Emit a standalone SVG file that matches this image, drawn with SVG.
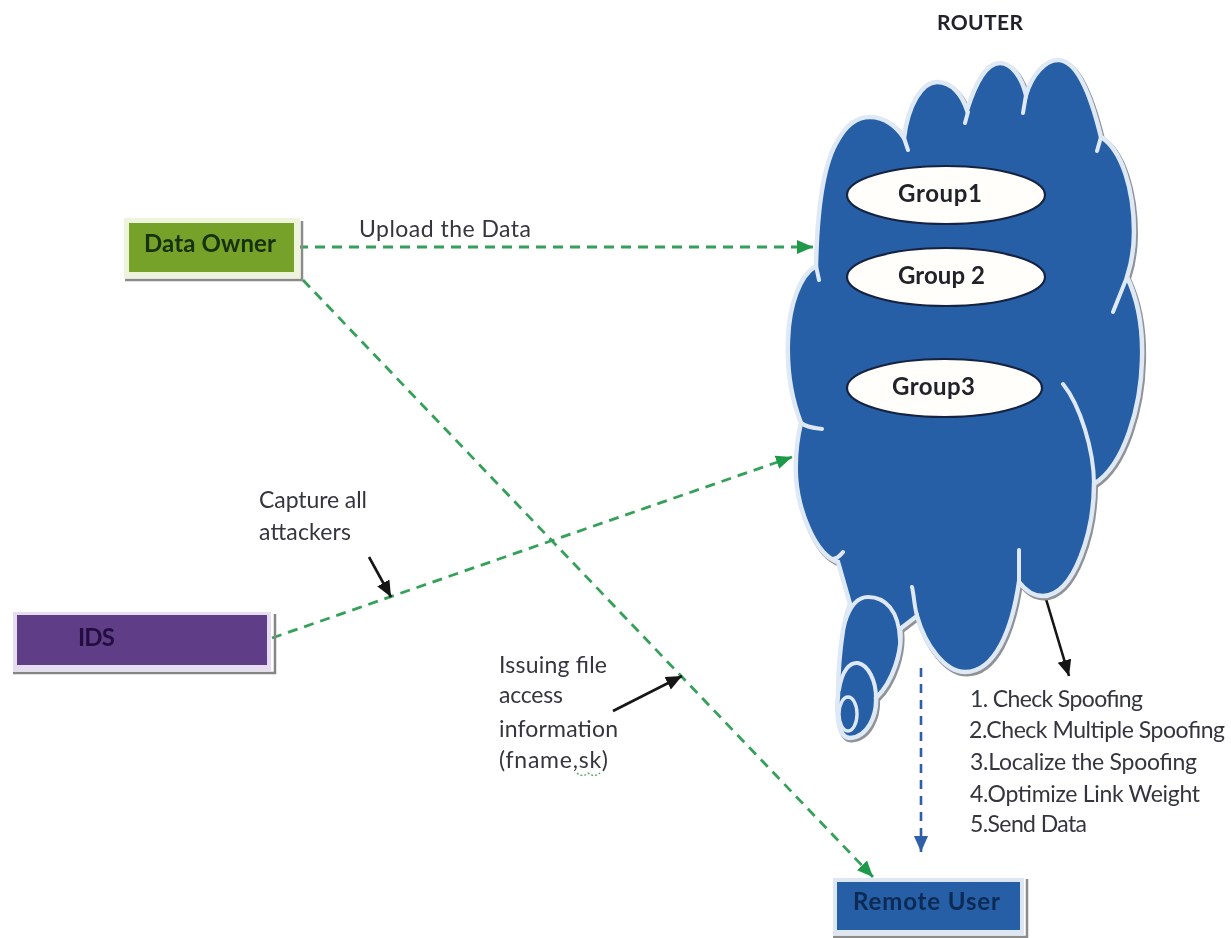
<svg xmlns="http://www.w3.org/2000/svg" xmlns:xlink="http://www.w3.org/1999/xlink" width="1231" height="938" viewBox="0 0 1231 938">
<style>
text{font-family:Lato,"Open Sans","Liberation Sans",sans-serif;fill:#34363e;font-size:23px}
.b{font-weight:700;font-size:24px;fill:#22242c}
.dash{fill:none;stroke:#35a058;stroke-width:2.8;stroke-dasharray:10 7}
.blk{fill:none;stroke:#141414;stroke-width:2.6}
.in{fill:none;stroke:#dfe9f5;stroke-width:4;stroke-linecap:round}
.el{fill:#fffefb;stroke:#14233f;stroke-width:2.2}
</style>
<defs>
<marker id="g" markerUnits="userSpaceOnUse" markerWidth="18" markerHeight="16" refX="16" refY="8" orient="auto"><path d="M0 1L16 8L0 15Z" fill="#1d9a48"/></marker>
<marker id="u" markerUnits="userSpaceOnUse" markerWidth="18" markerHeight="16" refX="16" refY="8" orient="auto"><path d="M0 1L16 8L0 15Z" fill="#2f5fa8"/></marker>
<marker id="k" markerUnits="userSpaceOnUse" markerWidth="18" markerHeight="16" refX="16" refY="8" orient="auto"><path d="M0 1L16 8L0 15Z" fill="#141414"/></marker>
<path id="cloud" d="M816 266C817 220 822 165 838 140C848 122 860 117 870 117C885 117 897 127 904 138C908 105 922 82 937 82C952 82 962 95 967 110C975 85 985 63 1000 63C1012 63 1022 78 1026 95C1032 75 1045 60 1058 60C1078 60 1092 100 1101 137C1122 150 1134 190 1134 232C1134 250 1131 265 1127 277C1138 300 1143 330 1142 360C1141 405 1125 465 1094 484C1094 530 1075 595 1043 596C1033 596 1025 590 1019 582C1012 630 995 672 965 672C945 672 925 645 917 616L900 629C903 650 893 682 876 698C877 715 868 737 850 738C838 738 836 715 838 695C838 670 840 650 843 630C845 620 847 610 850 604L838 562C815 555 798 510 796 477C795 455 798 435 801 423C790 395 787 365 788 340C789 305 800 275 816 266Z"/>
<filter id="soft" x="-5%" y="-5%" width="110%" height="110%"><feGaussianBlur stdDeviation="0.6"/></filter>
</defs>
<rect width="1231" height="938" fill="#fff"/>
<g filter="url(#soft)">
<g id="connectors">
<path class="dash" d="M298 247H813" marker-end="url(#g)"/>
<path class="dash" d="M303 280L873 877" marker-end="url(#g)"/>
<path class="dash" d="M272 638L792 457" marker-end="url(#g)"/>
<path fill="none" stroke="#2f5fa8" stroke-width="2.6" stroke-dasharray="9 7" d="M921 668V852" marker-end="url(#u)"/>
<path class="blk" d="M369 557L391 597" marker-end="url(#k)"/>
<path class="blk" d="M613 711L682 676" marker-end="url(#k)"/>
<path class="blk" d="M1046 599L1069 676" marker-end="url(#k)"/>
<path fill="none" stroke="#5aa060" stroke-width="1.4" stroke-dasharray="2 2" d="M577 773Q583 778 588 773Q594 778 600 773"/>
</g>
<g id="router">
<use href="#cloud" transform="translate(1.5 2)" fill="#8f9296" stroke="#8f9296" stroke-width="5"/>
<use href="#cloud" fill="#255ea6" stroke="#dfe9f5" stroke-width="4.5"/>
<path class="in" d="M904 138L908 150M968 112L965 123M1026 95L1023 113M1101 137L1097 151M1127 277L1113 312"/>
<path class="in" d="M1063 384C1080 405 1094 450 1094 484M1019 582V550M917 616C914 605 914 595 912 587M816 266L819 280M801 423C808 428 815 428 822 429M832 559C836 559 840 556 843 552"/>
<path class="in" d="M845 622C850 606 858 597 868 597C885 597 899 610 900 640"/>
<path class="in" d="M839 690C842 670 850 662 858 663C868 665 876 680 876 698"/>
<ellipse cx="848" cy="714" rx="9" ry="17" fill="#255ea6" stroke="#dfe9f5" stroke-width="3.4"/>
<text x="937" y="30" class="b" textLength="86" lengthAdjust="spacing" style="font-size:21px">ROUTER</text>
</g>
<g id="group1"><ellipse class="el" cx="946" cy="195" rx="99" ry="29"/><text x="898" y="202" class="b" textLength="84" lengthAdjust="spacing">Group1</text></g>
<g id="group2"><ellipse class="el" cx="946" cy="277" rx="99" ry="29"/><text x="898" y="284" class="b" textLength="87" lengthAdjust="spacing">Group 2</text></g>
<g id="group3"><ellipse class="el" cx="944.5" cy="388" rx="97.5" ry="29"/><text x="892" y="395" class="b" textLength="83" lengthAdjust="spacing">Group3</text></g>
<g id="data-owner">
<path d="M125 280H302V221" fill="none" stroke="#8b8b8b" stroke-width="2.5"/>
<rect x="124" y="218" width="176" height="60" fill="#eef4dc"/>
<rect x="129" y="223" width="165" height="49" fill="#76a22a"/>
<text x="144" y="252" class="b" textLength="132" lengthAdjust="spacing" style="fill:#14300c">Data Owner</text>
</g>
<g id="ids">
<path d="M13 673H275V614" fill="none" stroke="#858585" stroke-width="2.5"/>
<rect x="13" y="612" width="258" height="59" fill="#e6ddf0"/>
<rect x="17" y="615" width="250" height="50" fill="#5f3c87"/>
<text x="78" y="646" class="b" textLength="37" lengthAdjust="spacing" style="fill:#24103f">IDS</text>
</g>
<g id="remote-user">
<path d="M833 937H1027V879" fill="none" stroke="#8c8c8c" stroke-width="2.5"/>
<rect x="833" y="878" width="191" height="57" fill="#dde7f3"/>
<rect x="837" y="882" width="183" height="48" fill="#255ea6"/>
<text x="853" y="910" class="b" textLength="147" lengthAdjust="spacing" style="fill:#0e2a55">Remote User</text>
</g>
<g id="labels">
<text x="359" y="237" textLength="172" lengthAdjust="spacing">Upload the Data</text>
<text x="259" y="508" textLength="108" lengthAdjust="spacing">Capture all</text>
<text x="259" y="540" textLength="92" lengthAdjust="spacing">attackers</text>
<text x="499" y="673" textLength="108" lengthAdjust="spacing">Issuing file</text>
<text x="499" y="703" textLength="64" lengthAdjust="spacing">access</text>
<text x="499" y="737" textLength="119" lengthAdjust="spacing">information</text>
<text x="499" y="768" textLength="109" lengthAdjust="spacing">(fname,sk)</text>
<text x="970" y="707" textLength="173" lengthAdjust="spacing">1. Check Spoofing</text>
<text x="969" y="738" textLength="256" lengthAdjust="spacing">2.Check Multiple Spoofing</text>
<text x="970" y="770" textLength="227" lengthAdjust="spacing">3.Localize the Spoofing</text>
<text x="970" y="802" textLength="230" lengthAdjust="spacing">4.Optimize Link Weight</text>
<text x="970" y="832" textLength="117" lengthAdjust="spacing">5.Send Data</text>
</g>
</g>
</svg>
